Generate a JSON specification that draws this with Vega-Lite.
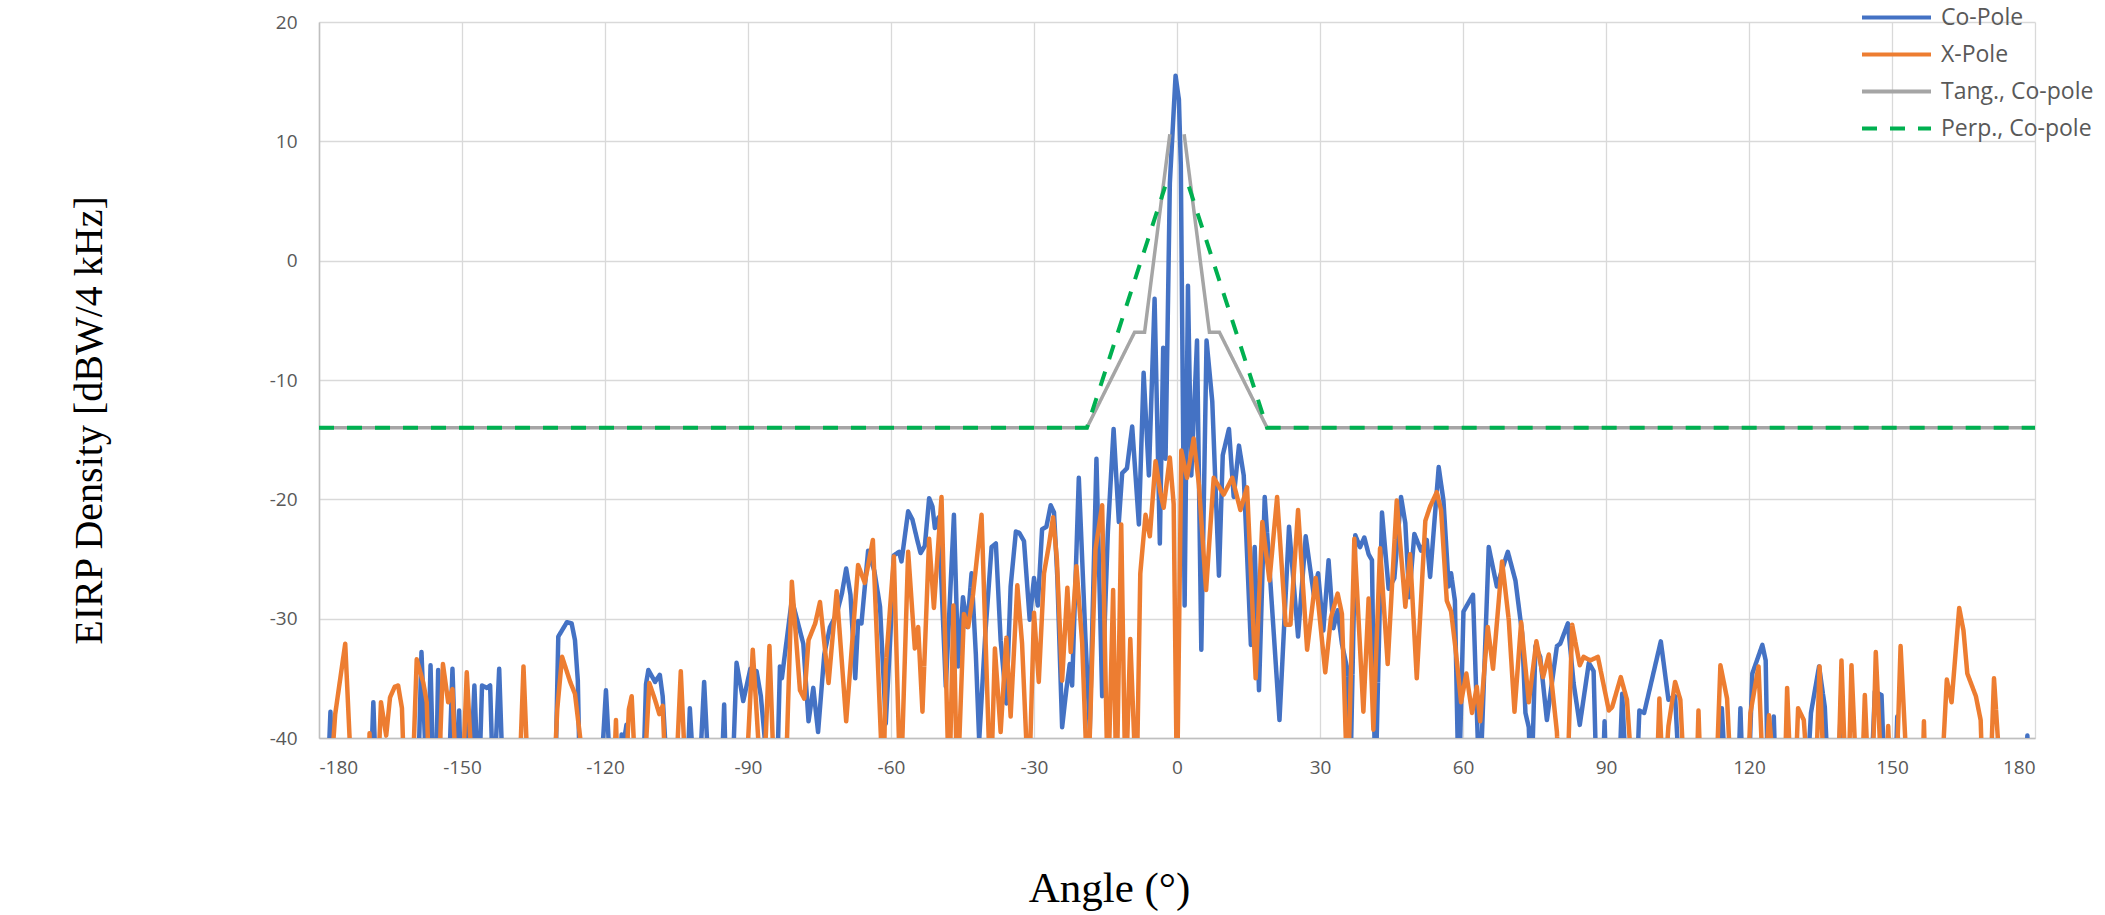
{
"$schema":"https://vega.github.io/schema/vega-lite/v6.json",
"width":1716,"height":716,
"autosize":{"type":"none"},
"padding":{"left":319,"top":22,"right":70,"bottom":177},
"background":"white",
"config":{
 "view":{"stroke":null},
 "axis":{"grid":true,"gridColor":"#D9D9D9","gridWidth":1.3,"domainColor":"#BFBFBF","domainWidth":1.5,"ticks":false,"labelColor":"#595959","labelFont":"Open Sans","labelFontSize":19,"titleFont":"Liberation Serif","titleFontWeight":"normal","titleColor":"#000000","labelExpr":"'' + datum.value"},
 "legend":{"orient":"none","legendX":1558,"legendY":-24,"symbolType":"M-2,0H2","symbolSize":1190,"symbolStrokeWidth":4,"labelFont":"Open Sans","labelFontSize":23,"labelColor":"#595959","labelOffset":25,"rowPadding":5,"title":null,"padding":0,"labelLimit":400}
},
"data":{"values":[
{"series":"Co-Pole","angle":-178.3,"eirp":-45},{"series":"Co-Pole","angle":-177.6,"eirp":-37.8},{"series":"Co-Pole","angle":-177.0,"eirp":-45},
{"series":"Co-Pole","angle":-169.3,"eirp":-45},{"series":"Co-Pole","angle":-168.6,"eirp":-37.0},{"series":"Co-Pole","angle":-167.9,"eirp":-45},
{"series":"Co-Pole","angle":-159.3,"eirp":-45},{"series":"Co-Pole","angle":-158.5,"eirp":-32.8},{"series":"Co-Pole","angle":-157.3,"eirp":-45},
{"series":"Co-Pole","angle":-156.6,"eirp":-33.9},{"series":"Co-Pole","angle":-155.9,"eirp":-45},{"series":"Co-Pole","angle":-155.5,"eirp":-45},
{"series":"Co-Pole","angle":-155.0,"eirp":-34.3},{"series":"Co-Pole","angle":-154.3,"eirp":-45},{"series":"Co-Pole","angle":-152.9,"eirp":-45},
{"series":"Co-Pole","angle":-152.0,"eirp":-34.2},{"series":"Co-Pole","angle":-151.1,"eirp":-45},{"series":"Co-Pole","angle":-150.6,"eirp":-37.7},
{"series":"Co-Pole","angle":-150.1,"eirp":-45},{"series":"Co-Pole","angle":-149.0,"eirp":-38.1},{"series":"Co-Pole","angle":-148.4,"eirp":-45},
{"series":"Co-Pole","angle":-147.4,"eirp":-35.6},{"series":"Co-Pole","angle":-146.5,"eirp":-45},{"series":"Co-Pole","angle":-145.8,"eirp":-35.6},
{"series":"Co-Pole","angle":-144.8,"eirp":-35.8},{"series":"Co-Pole","angle":-144.1,"eirp":-35.6},{"series":"Co-Pole","angle":-143.4,"eirp":-45},
{"series":"Co-Pole","angle":-142.2,"eirp":-34.2},{"series":"Co-Pole","angle":-141.3,"eirp":-45},{"series":"Co-Pole","angle":-130.5,"eirp":-45},
{"series":"Co-Pole","angle":-129.8,"eirp":-31.5},{"series":"Co-Pole","angle":-128.0,"eirp":-30.3},{"series":"Co-Pole","angle":-127.0,"eirp":-30.4},
{"series":"Co-Pole","angle":-126.3,"eirp":-31.8},{"series":"Co-Pole","angle":-125.7,"eirp":-35.2},{"series":"Co-Pole","angle":-125.2,"eirp":-45},
{"series":"Co-Pole","angle":-121.1,"eirp":-45},{"series":"Co-Pole","angle":-119.8,"eirp":-36.0},{"series":"Co-Pole","angle":-118.6,"eirp":-45},
{"series":"Co-Pole","angle":-117.2,"eirp":-45},{"series":"Co-Pole","angle":-116.5,"eirp":-39.7},{"series":"Co-Pole","angle":-116.1,"eirp":-40.5},
{"series":"Co-Pole","angle":-115.5,"eirp":-38.9},{"series":"Co-Pole","angle":-114.7,"eirp":-45},{"series":"Co-Pole","angle":-112.1,"eirp":-45},
{"series":"Co-Pole","angle":-111.4,"eirp":-35.5},{"series":"Co-Pole","angle":-110.9,"eirp":-34.3},{"series":"Co-Pole","angle":-109.5,"eirp":-35.3},
{"series":"Co-Pole","angle":-108.5,"eirp":-34.7},{"series":"Co-Pole","angle":-107.9,"eirp":-36.5},{"series":"Co-Pole","angle":-106.7,"eirp":-45},
{"series":"Co-Pole","angle":-102.9,"eirp":-45},{"series":"Co-Pole","angle":-102.2,"eirp":-37.5},{"series":"Co-Pole","angle":-101.1,"eirp":-45},
{"series":"Co-Pole","angle":-100.4,"eirp":-45},{"series":"Co-Pole","angle":-99.2,"eirp":-35.3},{"series":"Co-Pole","angle":-98.0,"eirp":-45},
{"series":"Co-Pole","angle":-95.7,"eirp":-45},{"series":"Co-Pole","angle":-95.0,"eirp":-37.2},{"series":"Co-Pole","angle":-94.5,"eirp":-45},
{"series":"Co-Pole","angle":-93.4,"eirp":-45},{"series":"Co-Pole","angle":-92.4,"eirp":-33.7},{"series":"Co-Pole","angle":-91.0,"eirp":-36.9},
{"series":"Co-Pole","angle":-89.5,"eirp":-34.2},{"series":"Co-Pole","angle":-88.2,"eirp":-34.4},{"series":"Co-Pole","angle":-87.3,"eirp":-36.5},
{"series":"Co-Pole","angle":-86.5,"eirp":-40},{"series":"Co-Pole","angle":-84.7,"eirp":-45},{"series":"Co-Pole","angle":-84.0,"eirp":-45},
{"series":"Co-Pole","angle":-83.3,"eirp":-34.0},{"series":"Co-Pole","angle":-82.9,"eirp":-35.0},{"series":"Co-Pole","angle":-80.8,"eirp":-28.4},
{"series":"Co-Pole","angle":-78.4,"eirp":-32.1},{"series":"Co-Pole","angle":-77.3,"eirp":-38.6},{"series":"Co-Pole","angle":-76.3,"eirp":-35.8},
{"series":"Co-Pole","angle":-75.3,"eirp":-39.5},{"series":"Co-Pole","angle":-74.0,"eirp":-33.0},{"series":"Co-Pole","angle":-72.8,"eirp":-30.7},
{"series":"Co-Pole","angle":-71.4,"eirp":-29.6},{"series":"Co-Pole","angle":-70.3,"eirp":-27.9},{"series":"Co-Pole","angle":-69.4,"eirp":-25.8},
{"series":"Co-Pole","angle":-68.5,"eirp":-28.0},{"series":"Co-Pole","angle":-67.5,"eirp":-35.0},{"series":"Co-Pole","angle":-66.9,"eirp":-30.2},
{"series":"Co-Pole","angle":-66.2,"eirp":-30.4},{"series":"Co-Pole","angle":-64.8,"eirp":-24.3},{"series":"Co-Pole","angle":-63.5,"eirp":-26.0},
{"series":"Co-Pole","angle":-62.3,"eirp":-29.0},{"series":"Co-Pole","angle":-61.1,"eirp":-38.8},{"series":"Co-Pole","angle":-60.1,"eirp":-31.2},
{"series":"Co-Pole","angle":-59.4,"eirp":-24.7},{"series":"Co-Pole","angle":-58.3,"eirp":-24.4},{"series":"Co-Pole","angle":-57.8,"eirp":-25.2},
{"series":"Co-Pole","angle":-56.4,"eirp":-21.0},{"series":"Co-Pole","angle":-55.5,"eirp":-21.7},{"series":"Co-Pole","angle":-54.5,"eirp":-23.4},
{"series":"Co-Pole","angle":-53.8,"eirp":-24.5},{"series":"Co-Pole","angle":-52.9,"eirp":-23.9},{"series":"Co-Pole","angle":-52.0,"eirp":-19.9},
{"series":"Co-Pole","angle":-51.3,"eirp":-20.6},{"series":"Co-Pole","angle":-50.8,"eirp":-22.4},{"series":"Co-Pole","angle":-50.0,"eirp":-21.5},
{"series":"Co-Pole","angle":-48.5,"eirp":-35.7},{"series":"Co-Pole","angle":-46.8,"eirp":-21.3},{"series":"Co-Pole","angle":-45.9,"eirp":-34.0},
{"series":"Co-Pole","angle":-44.9,"eirp":-28.2},{"series":"Co-Pole","angle":-44.0,"eirp":-30.7},{"series":"Co-Pole","angle":-43.1,"eirp":-26.2},
{"series":"Co-Pole","angle":-42.2,"eirp":-33.0},{"series":"Co-Pole","angle":-41.5,"eirp":-40.2},{"series":"Co-Pole","angle":-40.2,"eirp":-31.2},
{"series":"Co-Pole","angle":-38.9,"eirp":-24.0},{"series":"Co-Pole","angle":-38.0,"eirp":-23.7},{"series":"Co-Pole","angle":-37.0,"eirp":-31.8},
{"series":"Co-Pole","angle":-35.8,"eirp":-37.1},{"series":"Co-Pole","angle":-34.9,"eirp":-27.3},{"series":"Co-Pole","angle":-33.8,"eirp":-22.7},
{"series":"Co-Pole","angle":-33.1,"eirp":-22.8},{"series":"Co-Pole","angle":-32.1,"eirp":-23.5},{"series":"Co-Pole","angle":-30.9,"eirp":-30.1},
{"series":"Co-Pole","angle":-30.0,"eirp":-26.6},{"series":"Co-Pole","angle":-29.2,"eirp":-28.9},{"series":"Co-Pole","angle":-28.3,"eirp":-22.5},
{"series":"Co-Pole","angle":-27.4,"eirp":-22.3},{"series":"Co-Pole","angle":-26.5,"eirp":-20.5},{"series":"Co-Pole","angle":-25.8,"eirp":-21.1},
{"series":"Co-Pole","angle":-25.1,"eirp":-26.6},{"series":"Co-Pole","angle":-24.1,"eirp":-39.1},{"series":"Co-Pole","angle":-23.2,"eirp":-35.9},
{"series":"Co-Pole","angle":-22.5,"eirp":-33.8},{"series":"Co-Pole","angle":-22.0,"eirp":-35.6},{"series":"Co-Pole","angle":-20.6,"eirp":-18.2},
{"series":"Co-Pole","angle":-19.2,"eirp":-31.7},{"series":"Co-Pole","angle":-18.3,"eirp":-39.3},{"series":"Co-Pole","angle":-16.9,"eirp":-16.6},
{"series":"Co-Pole","angle":-15.7,"eirp":-36.5},{"series":"Co-Pole","angle":-14.5,"eirp":-22.7},{"series":"Co-Pole","angle":-13.3,"eirp":-14.1},
{"series":"Co-Pole","angle":-12.2,"eirp":-21.9},{"series":"Co-Pole","angle":-11.5,"eirp":-17.8},{"series":"Co-Pole","angle":-10.5,"eirp":-17.4},
{"series":"Co-Pole","angle":-9.4,"eirp":-13.9},{"series":"Co-Pole","angle":-8.0,"eirp":-22.1},{"series":"Co-Pole","angle":-7.0,"eirp":-9.4},
{"series":"Co-Pole","angle":-5.9,"eirp":-18.0},{"series":"Co-Pole","angle":-4.7,"eirp":-3.2},{"series":"Co-Pole","angle":-3.6,"eirp":-23.7},
{"series":"Co-Pole","angle":-2.9,"eirp":-7.3},{"series":"Co-Pole","angle":-2.4,"eirp":-16.6},{"series":"Co-Pole","angle":-1.5,"eirp":6.5},
{"series":"Co-Pole","angle":-0.3,"eirp":15.5},{"series":"Co-Pole","angle":0.4,"eirp":13.5},{"series":"Co-Pole","angle":0.8,"eirp":8.0},
{"series":"Co-Pole","angle":1.6,"eirp":-28.9},{"series":"Co-Pole","angle":2.3,"eirp":-2.1},{"series":"Co-Pole","angle":3.0,"eirp":-18.0},
{"series":"Co-Pole","angle":4.2,"eirp":-6.7},{"series":"Co-Pole","angle":5.1,"eirp":-32.6},{"series":"Co-Pole","angle":6.2,"eirp":-6.7},
{"series":"Co-Pole","angle":7.4,"eirp":-11.8},{"series":"Co-Pole","angle":8.8,"eirp":-26.4},{"series":"Co-Pole","angle":9.6,"eirp":-16.3},
{"series":"Co-Pole","angle":10.9,"eirp":-14.1},{"series":"Co-Pole","angle":11.9,"eirp":-19.8},{"series":"Co-Pole","angle":13.0,"eirp":-15.5},
{"series":"Co-Pole","angle":14.0,"eirp":-18.0},{"series":"Co-Pole","angle":15.5,"eirp":-32.2},{"series":"Co-Pole","angle":16.3,"eirp":-24.0},
{"series":"Co-Pole","angle":17.2,"eirp":-36.0},{"series":"Co-Pole","angle":18.4,"eirp":-19.8},{"series":"Co-Pole","angle":19.6,"eirp":-27.0},
{"series":"Co-Pole","angle":21.5,"eirp":-38.5},{"series":"Co-Pole","angle":23.5,"eirp":-22.3},{"series":"Co-Pole","angle":25.4,"eirp":-31.5},
{"series":"Co-Pole","angle":27.0,"eirp":-23.1},{"series":"Co-Pole","angle":28.7,"eirp":-28.0},{"series":"Co-Pole","angle":29.6,"eirp":-26.2},
{"series":"Co-Pole","angle":30.7,"eirp":-31.0},{"series":"Co-Pole","angle":31.8,"eirp":-25.1},{"series":"Co-Pole","angle":32.8,"eirp":-30.8},
{"series":"Co-Pole","angle":33.7,"eirp":-29.3},{"series":"Co-Pole","angle":34.6,"eirp":-32.1},{"series":"Co-Pole","angle":35.6,"eirp":-34.0},
{"series":"Co-Pole","angle":36.3,"eirp":-45},{"series":"Co-Pole","angle":37.4,"eirp":-23.0},{"series":"Co-Pole","angle":38.4,"eirp":-24.0},
{"series":"Co-Pole","angle":39.3,"eirp":-23.2},{"series":"Co-Pole","angle":40.2,"eirp":-24.6},{"series":"Co-Pole","angle":40.9,"eirp":-25.1},
{"series":"Co-Pole","angle":41.6,"eirp":-45},{"series":"Co-Pole","angle":43.0,"eirp":-21.1},{"series":"Co-Pole","angle":44.4,"eirp":-27.5},
{"series":"Co-Pole","angle":45.6,"eirp":-26.6},{"series":"Co-Pole","angle":47.0,"eirp":-19.8},{"series":"Co-Pole","angle":47.9,"eirp":-22.0},
{"series":"Co-Pole","angle":48.7,"eirp":-28.2},{"series":"Co-Pole","angle":49.8,"eirp":-22.9},{"series":"Co-Pole","angle":51.2,"eirp":-24.3},
{"series":"Co-Pole","angle":52.4,"eirp":-23.4},{"series":"Co-Pole","angle":53.1,"eirp":-26.5},{"series":"Co-Pole","angle":54.9,"eirp":-17.3},
{"series":"Co-Pole","angle":55.9,"eirp":-20.1},{"series":"Co-Pole","angle":57.0,"eirp":-27.3},{"series":"Co-Pole","angle":57.5,"eirp":-26.2},
{"series":"Co-Pole","angle":58.3,"eirp":-28.5},{"series":"Co-Pole","angle":59.1,"eirp":-45},{"series":"Co-Pole","angle":60.1,"eirp":-29.4},
{"series":"Co-Pole","angle":62.1,"eirp":-28.0},{"series":"Co-Pole","angle":63.5,"eirp":-45},{"series":"Co-Pole","angle":65.4,"eirp":-24.0},
{"series":"Co-Pole","angle":67.1,"eirp":-27.3},{"series":"Co-Pole","angle":69.4,"eirp":-24.4},{"series":"Co-Pole","angle":71.0,"eirp":-26.8},
{"series":"Co-Pole","angle":72.4,"eirp":-31.2},{"series":"Co-Pole","angle":73.1,"eirp":-37.9},{"series":"Co-Pole","angle":73.8,"eirp":-39.1},
{"series":"Co-Pole","angle":74.3,"eirp":-45},{"series":"Co-Pole","angle":75.2,"eirp":-32.3},{"series":"Co-Pole","angle":76.2,"eirp":-33.2},
{"series":"Co-Pole","angle":77.6,"eirp":-38.5},{"series":"Co-Pole","angle":79.7,"eirp":-32.3},{"series":"Co-Pole","angle":80.4,"eirp":-32.1},
{"series":"Co-Pole","angle":82.0,"eirp":-30.4},{"series":"Co-Pole","angle":83.2,"eirp":-35.4},{"series":"Co-Pole","angle":84.5,"eirp":-38.9},
{"series":"Co-Pole","angle":86.4,"eirp":-33.7},{"series":"Co-Pole","angle":87.4,"eirp":-34.4},{"series":"Co-Pole","angle":88.1,"eirp":-45},
{"series":"Co-Pole","angle":89.2,"eirp":-45},{"series":"Co-Pole","angle":89.7,"eirp":-38.6},{"series":"Co-Pole","angle":90.2,"eirp":-45},
{"series":"Co-Pole","angle":92.6,"eirp":-45},{"series":"Co-Pole","angle":93.4,"eirp":-36.3},{"series":"Co-Pole","angle":94.4,"eirp":-45},
{"series":"Co-Pole","angle":96.3,"eirp":-45},{"series":"Co-Pole","angle":97.0,"eirp":-37.7},{"series":"Co-Pole","angle":98.0,"eirp":-37.9},
{"series":"Co-Pole","angle":101.5,"eirp":-31.9},{"series":"Co-Pole","angle":103.1,"eirp":-36.8},{"series":"Co-Pole","angle":104.5,"eirp":-36.5},
{"series":"Co-Pole","angle":105.6,"eirp":-45},{"series":"Co-Pole","angle":113.3,"eirp":-45},{"series":"Co-Pole","angle":114.3,"eirp":-37.5},
{"series":"Co-Pole","angle":115.3,"eirp":-45},{"series":"Co-Pole","angle":117.6,"eirp":-45},{"series":"Co-Pole","angle":118.2,"eirp":-37.5},
{"series":"Co-Pole","angle":118.8,"eirp":-45},{"series":"Co-Pole","angle":119.8,"eirp":-45},{"series":"Co-Pole","angle":120.7,"eirp":-34.6},
{"series":"Co-Pole","angle":122.8,"eirp":-32.2},{"series":"Co-Pole","angle":123.5,"eirp":-33.5},{"series":"Co-Pole","angle":124.0,"eirp":-45},
{"series":"Co-Pole","angle":124.8,"eirp":-45},{"series":"Co-Pole","angle":125.2,"eirp":-38.2},{"series":"Co-Pole","angle":125.7,"eirp":-45},
{"series":"Co-Pole","angle":132.0,"eirp":-45},{"series":"Co-Pole","angle":133.0,"eirp":-37.9},{"series":"Co-Pole","angle":134.7,"eirp":-34.0},
{"series":"Co-Pole","angle":135.9,"eirp":-37.4},{"series":"Co-Pole","angle":136.8,"eirp":-45},{"series":"Co-Pole","angle":138.6,"eirp":-45},
{"series":"Co-Pole","angle":139.4,"eirp":-35.8},{"series":"Co-Pole","angle":140.2,"eirp":-45},{"series":"Co-Pole","angle":145.5,"eirp":-45},
{"series":"Co-Pole","angle":146.4,"eirp":-36.1},{"series":"Co-Pole","angle":147.8,"eirp":-36.4},{"series":"Co-Pole","angle":148.6,"eirp":-45},
{"series":"Co-Pole","angle":150.6,"eirp":-45},{"series":"Co-Pole","angle":151.1,"eirp":-38.2},{"series":"Co-Pole","angle":151.6,"eirp":-45},
{"series":"Co-Pole","angle":178.0,"eirp":-45},{"series":"Co-Pole","angle":178.4,"eirp":-39.8},{"series":"Co-Pole","angle":178.8,"eirp":-45},

{"series":"X-Pole","angle":-177.8,"eirp":-45},{"series":"X-Pole","angle":-176.6,"eirp":-38.0},{"series":"X-Pole","angle":-174.5,"eirp":-32.1},
{"series":"X-Pole","angle":-173.0,"eirp":-45},{"series":"X-Pole","angle":-169.6,"eirp":-45},{"series":"X-Pole","angle":-169.4,"eirp":-39.6},
{"series":"X-Pole","angle":-169.1,"eirp":-45},{"series":"X-Pole","angle":-167.8,"eirp":-45},{"series":"X-Pole","angle":-167.0,"eirp":-37.0},
{"series":"X-Pole","angle":-165.9,"eirp":-39.8},{"series":"X-Pole","angle":-165.1,"eirp":-36.6},{"series":"X-Pole","angle":-164.1,"eirp":-35.7},
{"series":"X-Pole","angle":-163.4,"eirp":-35.6},{"series":"X-Pole","angle":-162.6,"eirp":-37.5},{"series":"X-Pole","angle":-162.0,"eirp":-45},
{"series":"X-Pole","angle":-160.5,"eirp":-45},{"series":"X-Pole","angle":-159.5,"eirp":-33.4},{"series":"X-Pole","angle":-158.1,"eirp":-35.4},
{"series":"X-Pole","angle":-157.4,"eirp":-37.0},{"series":"X-Pole","angle":-156.8,"eirp":-45},{"series":"X-Pole","angle":-155.0,"eirp":-45},
{"series":"X-Pole","angle":-154.0,"eirp":-33.8},{"series":"X-Pole","angle":-152.9,"eirp":-37.0},{"series":"X-Pole","angle":-152.0,"eirp":-35.9},
{"series":"X-Pole","angle":-151.1,"eirp":-45},{"series":"X-Pole","angle":-150.0,"eirp":-45},{"series":"X-Pole","angle":-149.0,"eirp":-34.5},
{"series":"X-Pole","angle":-147.6,"eirp":-45},{"series":"X-Pole","angle":-138.1,"eirp":-45},{"series":"X-Pole","angle":-137.1,"eirp":-34.0},
{"series":"X-Pole","angle":-136.0,"eirp":-45},{"series":"X-Pole","angle":-130.9,"eirp":-45},{"series":"X-Pole","angle":-130.0,"eirp":-37.5},
{"series":"X-Pole","angle":-129.0,"eirp":-33.2},{"series":"X-Pole","angle":-127.3,"eirp":-35.3},{"series":"X-Pole","angle":-126.3,"eirp":-36.3},
{"series":"X-Pole","angle":-125.2,"eirp":-40.0},{"series":"X-Pole","angle":-124.9,"eirp":-45},{"series":"X-Pole","angle":-118.3,"eirp":-45},
{"series":"X-Pole","angle":-117.7,"eirp":-38.5},{"series":"X-Pole","angle":-117.2,"eirp":-45},{"series":"X-Pole","angle":-115.8,"eirp":-45},
{"series":"X-Pole","angle":-115.0,"eirp":-37.6},{"series":"X-Pole","angle":-114.4,"eirp":-36.5},{"series":"X-Pole","angle":-113.4,"eirp":-45},
{"series":"X-Pole","angle":-112.0,"eirp":-45},{"series":"X-Pole","angle":-110.7,"eirp":-35.4},{"series":"X-Pole","angle":-109.5,"eirp":-36.8},
{"series":"X-Pole","angle":-108.6,"eirp":-38.0},{"series":"X-Pole","angle":-107.9,"eirp":-37.3},{"series":"X-Pole","angle":-107.1,"eirp":-45},
{"series":"X-Pole","angle":-105.3,"eirp":-45},{"series":"X-Pole","angle":-104.1,"eirp":-34.4},{"series":"X-Pole","angle":-102.9,"eirp":-45},
{"series":"X-Pole","angle":-90.6,"eirp":-45},{"series":"X-Pole","angle":-89.0,"eirp":-32.6},{"series":"X-Pole","angle":-87.1,"eirp":-45},
{"series":"X-Pole","angle":-86.8,"eirp":-45},{"series":"X-Pole","angle":-85.5,"eirp":-32.3},{"series":"X-Pole","angle":-84.4,"eirp":-45},
{"series":"X-Pole","angle":-82.2,"eirp":-45},{"series":"X-Pole","angle":-80.8,"eirp":-26.9},{"series":"X-Pole","angle":-79.1,"eirp":-36.0},
{"series":"X-Pole","angle":-78.2,"eirp":-36.7},{"series":"X-Pole","angle":-77.3,"eirp":-31.8},{"series":"X-Pole","angle":-75.9,"eirp":-30.4},
{"series":"X-Pole","angle":-74.9,"eirp":-28.6},{"series":"X-Pole","angle":-73.1,"eirp":-35.4},{"series":"X-Pole","angle":-71.4,"eirp":-27.7},
{"series":"X-Pole","angle":-69.4,"eirp":-38.6},{"series":"X-Pole","angle":-66.9,"eirp":-25.5},{"series":"X-Pole","angle":-65.5,"eirp":-27.0},
{"series":"X-Pole","angle":-63.8,"eirp":-23.4},{"series":"X-Pole","angle":-61.6,"eirp":-45},{"series":"X-Pole","angle":-61.1,"eirp":-34.0},
{"series":"X-Pole","angle":-59.4,"eirp":-24.8},{"series":"X-Pole","angle":-58.0,"eirp":-45},{"series":"X-Pole","angle":-56.4,"eirp":-24.4},
{"series":"X-Pole","angle":-55.0,"eirp":-32.5},{"series":"X-Pole","angle":-54.3,"eirp":-30.7},{"series":"X-Pole","angle":-53.4,"eirp":-37.8},
{"series":"X-Pole","angle":-52.0,"eirp":-23.3},{"series":"X-Pole","angle":-51.0,"eirp":-29.1},{"series":"X-Pole","angle":-49.4,"eirp":-19.8},
{"series":"X-Pole","angle":-47.8,"eirp":-45},{"series":"X-Pole","angle":-46.9,"eirp":-28.9},{"series":"X-Pole","angle":-46.1,"eirp":-45},
{"series":"X-Pole","angle":-44.7,"eirp":-29.6},{"series":"X-Pole","angle":-43.8,"eirp":-30.7},{"series":"X-Pole","angle":-42.8,"eirp":-28.0},
{"series":"X-Pole","angle":-41.0,"eirp":-21.3},{"series":"X-Pole","angle":-39.1,"eirp":-45},{"series":"X-Pole","angle":-38.2,"eirp":-32.5},
{"series":"X-Pole","angle":-37.0,"eirp":-39.5},{"series":"X-Pole","angle":-35.8,"eirp":-31.6},{"series":"X-Pole","angle":-34.9,"eirp":-38.2},
{"series":"X-Pole","angle":-33.5,"eirp":-27.2},{"series":"X-Pole","angle":-32.5,"eirp":-32.1},{"series":"X-Pole","angle":-31.1,"eirp":-45},
{"series":"X-Pole","angle":-30.0,"eirp":-29.5},{"series":"X-Pole","angle":-29.0,"eirp":-35.3},{"series":"X-Pole","angle":-27.9,"eirp":-26.2},
{"series":"X-Pole","angle":-26.9,"eirp":-23.9},{"series":"X-Pole","angle":-26.0,"eirp":-21.5},{"series":"X-Pole","angle":-25.2,"eirp":-25.0},
{"series":"X-Pole","angle":-24.1,"eirp":-35.2},{"series":"X-Pole","angle":-23.0,"eirp":-27.4},{"series":"X-Pole","angle":-22.3,"eirp":-32.8},
{"series":"X-Pole","angle":-21.1,"eirp":-25.6},{"series":"X-Pole","angle":-19.9,"eirp":-32.0},{"series":"X-Pole","angle":-18.7,"eirp":-45},
{"series":"X-Pole","angle":-17.1,"eirp":-24.2},{"series":"X-Pole","angle":-15.7,"eirp":-20.5},{"series":"X-Pole","angle":-14.5,"eirp":-45},
{"series":"X-Pole","angle":-13.4,"eirp":-27.6},{"series":"X-Pole","angle":-12.7,"eirp":-45},{"series":"X-Pole","angle":-11.7,"eirp":-22.1},
{"series":"X-Pole","angle":-10.8,"eirp":-45},{"series":"X-Pole","angle":-9.8,"eirp":-31.7},{"series":"X-Pole","angle":-8.5,"eirp":-45},
{"series":"X-Pole","angle":-7.7,"eirp":-26.2},{"series":"X-Pole","angle":-6.6,"eirp":-21.3},{"series":"X-Pole","angle":-5.7,"eirp":-23.1},
{"series":"X-Pole","angle":-4.5,"eirp":-16.8},{"series":"X-Pole","angle":-3.5,"eirp":-19.4},{"series":"X-Pole","angle":-2.8,"eirp":-20.7},
{"series":"X-Pole","angle":-1.5,"eirp":-16.5},{"series":"X-Pole","angle":-0.7,"eirp":-20.4},{"series":"X-Pole","angle":0.0,"eirp":-45},
{"series":"X-Pole","angle":0.9,"eirp":-15.9},{"series":"X-Pole","angle":2.1,"eirp":-18.2},{"series":"X-Pole","angle":3.5,"eirp":-14.9},
{"series":"X-Pole","angle":4.6,"eirp":-18.8},{"series":"X-Pole","angle":6.1,"eirp":-27.6},{"series":"X-Pole","angle":7.7,"eirp":-18.2},
{"series":"X-Pole","angle":9.8,"eirp":-19.6},{"series":"X-Pole","angle":11.6,"eirp":-18.2},{"series":"X-Pole","angle":13.3,"eirp":-20.9},
{"series":"X-Pole","angle":14.7,"eirp":-19.0},{"series":"X-Pole","angle":16.5,"eirp":-35.0},{"series":"X-Pole","angle":17.9,"eirp":-21.9},
{"series":"X-Pole","angle":19.4,"eirp":-26.8},{"series":"X-Pole","angle":21.0,"eirp":-19.8},{"series":"X-Pole","angle":22.8,"eirp":-30.5},
{"series":"X-Pole","angle":23.8,"eirp":-30.5},{"series":"X-Pole","angle":25.4,"eirp":-20.9},{"series":"X-Pole","angle":27.3,"eirp":-32.6},
{"series":"X-Pole","angle":29.1,"eirp":-26.6},{"series":"X-Pole","angle":31.1,"eirp":-34.5},{"series":"X-Pole","angle":32.3,"eirp":-29.9},
{"series":"X-Pole","angle":33.7,"eirp":-27.9},{"series":"X-Pole","angle":34.6,"eirp":-29.6},{"series":"X-Pole","angle":35.8,"eirp":-45},
{"series":"X-Pole","angle":37.2,"eirp":-23.3},{"series":"X-Pole","angle":39.1,"eirp":-37.8},{"series":"X-Pole","angle":40.2,"eirp":-28.3},
{"series":"X-Pole","angle":41.2,"eirp":-39.3},{"series":"X-Pole","angle":42.6,"eirp":-24.1},{"series":"X-Pole","angle":44.2,"eirp":-33.8},
{"series":"X-Pole","angle":46.1,"eirp":-20.1},{"series":"X-Pole","angle":47.9,"eirp":-29.0},{"series":"X-Pole","angle":48.9,"eirp":-24.6},
{"series":"X-Pole","angle":50.3,"eirp":-35.0},{"series":"X-Pole","angle":52.1,"eirp":-21.8},{"series":"X-Pole","angle":53.1,"eirp":-20.6},
{"series":"X-Pole","angle":54.5,"eirp":-19.4},{"series":"X-Pole","angle":55.4,"eirp":-20.9},{"series":"X-Pole","angle":56.6,"eirp":-28.5},
{"series":"X-Pole","angle":57.5,"eirp":-29.4},{"series":"X-Pole","angle":58.4,"eirp":-32.4},{"series":"X-Pole","angle":59.6,"eirp":-37.0},
{"series":"X-Pole","angle":60.7,"eirp":-34.6},{"series":"X-Pole","angle":61.9,"eirp":-37.9},{"series":"X-Pole","angle":62.9,"eirp":-35.7},
{"series":"X-Pole","angle":63.6,"eirp":-38.6},{"series":"X-Pole","angle":65.2,"eirp":-30.7},{"series":"X-Pole","angle":66.3,"eirp":-34.2},
{"series":"X-Pole","angle":68.2,"eirp":-25.2},{"series":"X-Pole","angle":69.6,"eirp":-30.1},{"series":"X-Pole","angle":70.8,"eirp":-37.8},
{"series":"X-Pole","angle":72.2,"eirp":-30.3},{"series":"X-Pole","angle":73.8,"eirp":-37.0},{"series":"X-Pole","angle":75.4,"eirp":-31.9},
{"series":"X-Pole","angle":76.8,"eirp":-34.9},{"series":"X-Pole","angle":78.0,"eirp":-33.0},{"series":"X-Pole","angle":79.7,"eirp":-39.5},
{"series":"X-Pole","angle":80.3,"eirp":-45},{"series":"X-Pole","angle":81.8,"eirp":-45},{"series":"X-Pole","angle":82.9,"eirp":-30.5},
{"series":"X-Pole","angle":84.5,"eirp":-33.9},{"series":"X-Pole","angle":85.3,"eirp":-33.2},{"series":"X-Pole","angle":86.7,"eirp":-33.5},
{"series":"X-Pole","angle":88.3,"eirp":-33.2},{"series":"X-Pole","angle":90.6,"eirp":-37.7},{"series":"X-Pole","angle":91.3,"eirp":-37.4},
{"series":"X-Pole","angle":93.1,"eirp":-34.9},{"series":"X-Pole","angle":94.4,"eirp":-36.8},{"series":"X-Pole","angle":95.8,"eirp":-45},
{"series":"X-Pole","angle":100.5,"eirp":-45},{"series":"X-Pole","angle":101.2,"eirp":-36.7},{"series":"X-Pole","angle":102.1,"eirp":-45},
{"series":"X-Pole","angle":103.1,"eirp":-39.0},{"series":"X-Pole","angle":104.5,"eirp":-35.3},{"series":"X-Pole","angle":105.6,"eirp":-36.8},
{"series":"X-Pole","angle":106.6,"eirp":-45},{"series":"X-Pole","angle":108.9,"eirp":-45},{"series":"X-Pole","angle":109.4,"eirp":-37.7},
{"series":"X-Pole","angle":110.0,"eirp":-45},{"series":"X-Pole","angle":113.0,"eirp":-45},{"series":"X-Pole","angle":114.0,"eirp":-33.9},
{"series":"X-Pole","angle":115.4,"eirp":-36.7},{"series":"X-Pole","angle":116.4,"eirp":-45},{"series":"X-Pole","angle":119.6,"eirp":-45},
{"series":"X-Pole","angle":120.3,"eirp":-37.9},{"series":"X-Pole","angle":122.0,"eirp":-34.0},{"series":"X-Pole","angle":123.1,"eirp":-45},
{"series":"X-Pole","angle":124.2,"eirp":-38.1},{"series":"X-Pole","angle":125.7,"eirp":-45},{"series":"X-Pole","angle":127.4,"eirp":-45},
{"series":"X-Pole","angle":128.0,"eirp":-35.8},{"series":"X-Pole","angle":128.9,"eirp":-45},{"series":"X-Pole","angle":129.6,"eirp":-45},
{"series":"X-Pole","angle":130.3,"eirp":-37.5},{"series":"X-Pole","angle":131.5,"eirp":-38.5},{"series":"X-Pole","angle":132.6,"eirp":-45},
{"series":"X-Pole","angle":133.9,"eirp":-45},{"series":"X-Pole","angle":134.8,"eirp":-34.0},{"series":"X-Pole","angle":135.9,"eirp":-45},
{"series":"X-Pole","angle":138.6,"eirp":-45},{"series":"X-Pole","angle":139.4,"eirp":-33.5},{"series":"X-Pole","angle":140.4,"eirp":-45},
{"series":"X-Pole","angle":140.8,"eirp":-45},{"series":"X-Pole","angle":141.5,"eirp":-33.9},{"series":"X-Pole","angle":142.7,"eirp":-45},
{"series":"X-Pole","angle":143.6,"eirp":-45},{"series":"X-Pole","angle":144.3,"eirp":-36.4},{"series":"X-Pole","angle":145.2,"eirp":-45},
{"series":"X-Pole","angle":145.8,"eirp":-45},{"series":"X-Pole","angle":146.6,"eirp":-32.8},{"series":"X-Pole","angle":148.0,"eirp":-45},
{"series":"X-Pole","angle":148.6,"eirp":-45},{"series":"X-Pole","angle":149.2,"eirp":-39.0},{"series":"X-Pole","angle":149.8,"eirp":-45},
{"series":"X-Pole","angle":150.8,"eirp":-45},{"series":"X-Pole","angle":151.8,"eirp":-32.3},{"series":"X-Pole","angle":153.4,"eirp":-45},
{"series":"X-Pole","angle":156.3,"eirp":-45},{"series":"X-Pole","angle":156.7,"eirp":-38.6},{"series":"X-Pole","angle":157.1,"eirp":-45},
{"series":"X-Pole","angle":160.2,"eirp":-45},{"series":"X-Pole","angle":161.5,"eirp":-35.1},{"series":"X-Pole","angle":162.5,"eirp":-37.0},
{"series":"X-Pole","angle":164.1,"eirp":-29.1},{"series":"X-Pole","angle":165.0,"eirp":-31.0},{"series":"X-Pole","angle":165.8,"eirp":-34.6},
{"series":"X-Pole","angle":167.6,"eirp":-36.5},{"series":"X-Pole","angle":168.6,"eirp":-38.5},{"series":"X-Pole","angle":169.1,"eirp":-45},
{"series":"X-Pole","angle":170.5,"eirp":-45},{"series":"X-Pole","angle":171.4,"eirp":-35.0},{"series":"X-Pole","angle":173.0,"eirp":-45},

{"series":"Tang., Co-pole","seg":"L","angle":-180,"eirp":-14},{"series":"Tang., Co-pole","seg":"L","angle":-18.9,"eirp":-14},
{"series":"Tang., Co-pole","seg":"L","angle":-8.9,"eirp":-6},{"series":"Tang., Co-pole","seg":"L","angle":-6.8,"eirp":-6},
{"series":"Tang., Co-pole","seg":"L","angle":-1.5,"eirp":10.6},
{"series":"Tang., Co-pole","seg":"R","angle":1.5,"eirp":10.6},{"series":"Tang., Co-pole","seg":"R","angle":6.8,"eirp":-6},
{"series":"Tang., Co-pole","seg":"R","angle":8.9,"eirp":-6},{"series":"Tang., Co-pole","seg":"R","angle":18.9,"eirp":-14},
{"series":"Tang., Co-pole","seg":"R","angle":180,"eirp":-14},

{"series":"Perp., Co-pole","seg":"L","angle":-180,"eirp":-14},{"series":"Perp., Co-pole","seg":"L","angle":-18.9,"eirp":-14},
{"series":"Perp., Co-pole","seg":"L","angle":-2.5,"eirp":6.2},
{"series":"Perp., Co-pole","seg":"R","angle":2.5,"eirp":6.2},{"series":"Perp., Co-pole","seg":"R","angle":18.9,"eirp":-14},
{"series":"Perp., Co-pole","seg":"R","angle":180,"eirp":-14}
]},
"encoding":{
 "x":{"field":"angle","type":"quantitative","scale":{"domain":[-180,180],"nice":false,"zero":false},
   "axis":{"values":[-180,-150,-120,-90,-60,-30,0,30,60,90,120,150,180],"title":"Angle (°)","titleFontSize":43,"titleX":790,"titleY":150,"titleAlign":"center","titleBaseline":"middle","labelPadding":20}},
 "y":{"field":"eirp","type":"quantitative","scale":{"domain":[-40,20],"nice":false,"zero":false},
   "axis":{"values":[-40,-30,-20,-10,0,10,20],"title":"EIRP Density [dBW/4 kHz]","titleFontSize":40,"titleAngle":-90,"titleX":-230,"titleY":398,"titleAlign":"center","titleBaseline":"middle","labelPadding":22}},
 "color":{"field":"series","type":"nominal","scale":{"domain":["Co-Pole","X-Pole","Tang., Co-pole","Perp., Co-pole"],"range":["#4472C4","#ED7D31","#A5A5A5","#00B050"]}},
 "strokeDash":{"field":"series","type":"nominal","scale":{"domain":["Co-Pole","X-Pole","Tang., Co-pole","Perp., Co-pole"],"range":[[1,0],[1,0],[1,0],[15,13]]}}
},
"layer":[
 {"transform":[{"filter":"datum.series === 'Co-Pole'"}],"mark":{"type":"line","strokeWidth":4.5,"clip":true,"strokeJoin":"round"}},
 {"transform":[{"filter":"datum.series === 'X-Pole'"}],"mark":{"type":"line","strokeWidth":4.5,"clip":true,"strokeJoin":"round"}},
 {"transform":[{"filter":"datum.series === 'Tang., Co-pole'"}],"mark":{"type":"line","strokeWidth":3.5,"clip":true},"encoding":{"detail":{"field":"seg"}}},
 {"transform":[{"filter":"datum.series === 'Perp., Co-pole'"}],"mark":{"type":"line","strokeWidth":4,"clip":true},"encoding":{"detail":{"field":"seg"}}}
]
}
